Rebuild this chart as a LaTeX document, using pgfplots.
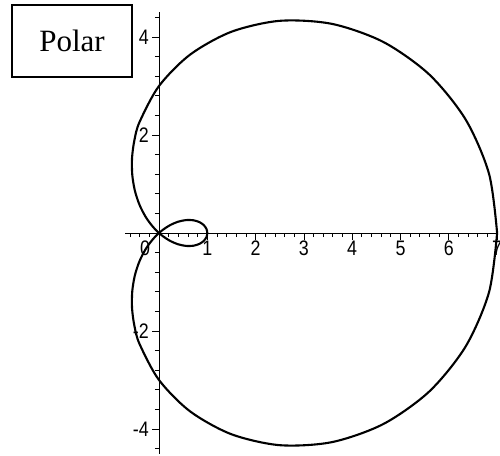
\documentclass[border=0pt]{standalone}
\usepackage{fontspec}
\setmainfont{Liberation Serif}
\newfontfamily\tickfont[FakeStretch=0.85]{Liberation Sans}
\usepackage{pgfplots}
\pgfplotsset{compat=1.18}

\begin{document}
\begin{tikzpicture}
% page frame: the origin of the plot sits 159pt from the left, 233pt from the top
\useasboundingbox (-159pt,-222pt) rectangle (341pt,233pt);
\begin{axis}[
  at={(0,0)}, anchor=origin,
  x=48.3pt, y=49pt,
  xmin=-0.7, xmax=7, ymin=-4.5, ymax=4.5,
  axis lines=middle,
  axis line style={-, line width=0.8pt, black},
  clip=false,
  tick align=outside,
  hide obscured x ticks=false,
  hide obscured y ticks=false,
  major tick length=7pt, minor tick length=4pt,
  tick style={line width=0.8pt, black},
  xtick={0,1,2,3,4,5,6,7},
  xticklabels={\makebox[0pt][r]{0\kern9pt},1,2,3,4,5,6,7},
  minor xtick={-0.6,-0.4,-0.2,0.2,0.4,0.6,0.8,1.2,1.4,1.6,1.8,2.2,2.4,2.6,2.8,3.2,3.4,3.6,3.8,4.2,4.4,4.6,4.8,5.2,5.4,5.6,5.8,6.2,6.4,6.6,6.8},
  ytick={-4,-2,2,4},
  yticklabels={-4,-2,2,4},
  minor ytick={-4.4,-3.6,-3.2,-2.8,-2.4,-1.6,-1.2,-0.8,-0.4,0.4,0.8,1.2,1.6,2.4,2.8,3.2,3.6,4.4},
  tick label style={font=\tickfont\fontsize{21}{21}\selectfont, inner sep=1pt},
  xticklabel style={anchor=north, yshift=0pt},
  yticklabel style={anchor=east, xshift=-2pt},
]
% limacon r = 3 + 4 cos(theta), sampled as (x, y) points
\addplot[black, line width=2.1pt, smooth, tension=0.5] coordinates {
(7,0)
(6.8338,1.2049)
(6.3512,2.3116)
(5.5981,3.2321)
(4.6453,3.8980)
(3.5812,4.2677)
(2.5,4.3301)
(1.4940,4.1047)
(0.6416,3.6385)
(0,3)
(-0.4003,2.2704)
(-0.5085,1.8978)
(-0.5581,1.5335)
(-0.5534,1.1868)
(-0.5,0.8660)
(-0.4048,0.5781)
(-0.2756,0.3285)
(-0.1213,0.1213)
(0.0492,-0.0413)
(0.2266,-0.1587)
(0.4019,-0.2321)
(0.5666,-0.2642)
(0.7130,-0.2595)
(0.8343,-0.2235)
(0.9249,-0.1631)
(0.9811,-0.0858)
(1,0)
(0.9811,0.0858)
(0.9249,0.1631)
(0.8343,0.2235)
(0.7130,0.2595)
(0.5666,0.2642)
(0.4019,0.2321)
(0.2266,0.1587)
(0.0492,0.0413)
(-0.1213,-0.1213)
(-0.2756,-0.3285)
(-0.4048,-0.5781)
(-0.5,-0.8660)
(-0.5534,-1.1868)
(-0.5581,-1.5335)
(-0.5085,-1.8978)
(-0.4003,-2.2704)
(0,-3)
(0.6416,-3.6385)
(1.4940,-4.1047)
(2.5,-4.3301)
(3.5812,-4.2677)
(4.6453,-3.8980)
(5.5981,-3.2321)
(6.3512,-2.3116)
(6.8338,-1.2049)
(7,0)
};
\end{axis}
% title box
\draw[line width=1.2pt, black] (-147pt,156pt) rectangle (-27pt,228pt);
\node[font=\fontsize{31}{31}\selectfont] at (-87pt,192pt) {Polar};
\end{tikzpicture}
\end{document}
